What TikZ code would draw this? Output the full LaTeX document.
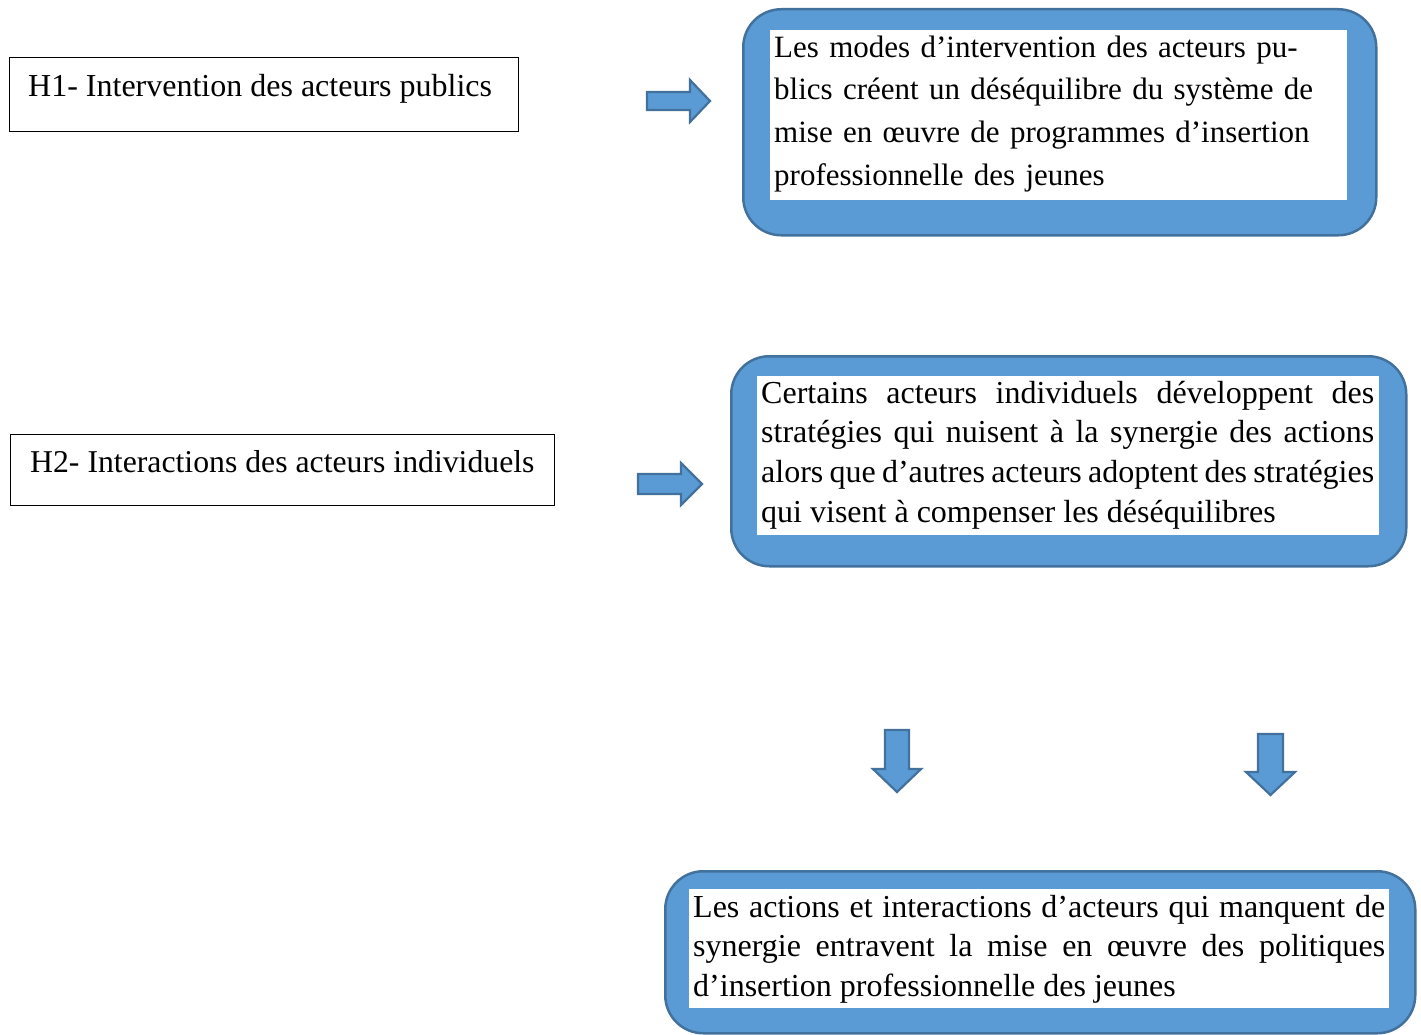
\documentclass[tikz,border=0pt]{standalone}
\usepackage{fontspec}
\setmainfont{Liberation Serif}
\definecolor{boxblue}{HTML}{5B9BD5}
\definecolor{boxline}{HTML}{41719C}
\tikzset{
  bluebox/.style={draw=boxline, line width=2.5pt, fill=boxblue, rounded corners=38pt, inner sep=0pt, anchor=north west},
  whitebox/.style={fill=white, inner sep=0pt, anchor=north west},
  hbox/.style={draw=black, line width=1pt, inner sep=0pt, anchor=north west},
  blockarrow/.style={draw=boxline, line width=2.2pt, fill=boxblue, line join=miter},
  bigtext/.style 2 args={font=\fontsize{#1}{#2}\selectfont, inner sep=0pt, anchor=north west},
}
\begin{document}
\begin{tikzpicture}[x=1pt,y=-1pt]
\useasboundingbox (0,0) rectangle (1421,1035);
% hypothesis boxes
\node (h1) [hbox, minimum width=509pt, minimum height=74pt] at (9,57) {};
\node (h1t) [anchor=base west, inner sep=0pt, font=\fontsize{32}{38}\selectfont] at (28,97) {H1- Intervention des acteurs publics};
\node (h2) [hbox, minimum width=544pt, minimum height=71pt] at (10,434) {};
\node (h2t) [anchor=base west, inner sep=0pt, font=\fontsize{31.75}{38}\selectfont] at (30,472) {H2- Interactions des acteurs individuels};
% box 1
\node (b1) [bluebox, minimum width=633pt, minimum height=226pt] at (742,8) {};
\node (w1) [whitebox, minimum width=577pt, minimum height=170pt] at (770,30) {};
\node (t1) [bigtext={31}{42.7}, text width=573pt, align=left] at (774,27)
  {\rule{0pt}{30pt}Les modes d’intervention des acteurs pu-\\
   blics créent un déséquilibre du système de\\
   mise en œuvre de programmes d’insertion\\
   professionnelle des jeunes};
% box 2
\node (b2) [bluebox, minimum width=675pt, minimum height=210pt] at (730,355) {};
\node (w2) [whitebox, minimum width=622pt, minimum height=159pt] at (757,376) {};
\node (t2) [bigtext={32}{39.7}, text width=613pt, align=justify] at (761,373)
  {\rule{0pt}{30pt}Certains acteurs individuels développent des\linebreak
   stratégies qui nuisent à la synergie des actions\linebreak
   alors que d’autres acteurs adoptent des stratégies\linebreak
   qui visent à compenser les déséquilibres};
% box 3
\node (b3) [bluebox, minimum width=750pt, minimum height=162pt] at (664,870) {};
\node (w3) [whitebox, minimum width=700pt, minimum height=119pt] at (689,889) {};
\node (t3) [bigtext={32}{39.5}, text width=692pt, align=justify] at (693,887)
  {\rule{0pt}{30pt}Les actions et interactions d’acteurs qui manquent de\linebreak
   synergie entravent la mise en œuvre des politiques\linebreak
   d’insertion professionnelle des jeunes};
% block arrows
\draw[blockarrow] (647,92) -- (690,92) -- (690,80) -- (710,101) -- (690,122) -- (690,110) -- (647,110) -- cycle;
\draw[blockarrow] (638,474) -- (681,474) -- (681,463) -- (702,484) -- (681,505) -- (681,494) -- (638,494) -- cycle;
\draw[blockarrow] (885,730) -- (909,730) -- (909,769) -- (921,769) -- (897,792) -- (873,769) -- (885,769) -- cycle;
\draw[blockarrow] (1258,734) -- (1283,734) -- (1283,772) -- (1295,772) -- (1270.5,795) -- (1246,772) -- (1258,772) -- cycle;
\end{tikzpicture}
\end{document}
